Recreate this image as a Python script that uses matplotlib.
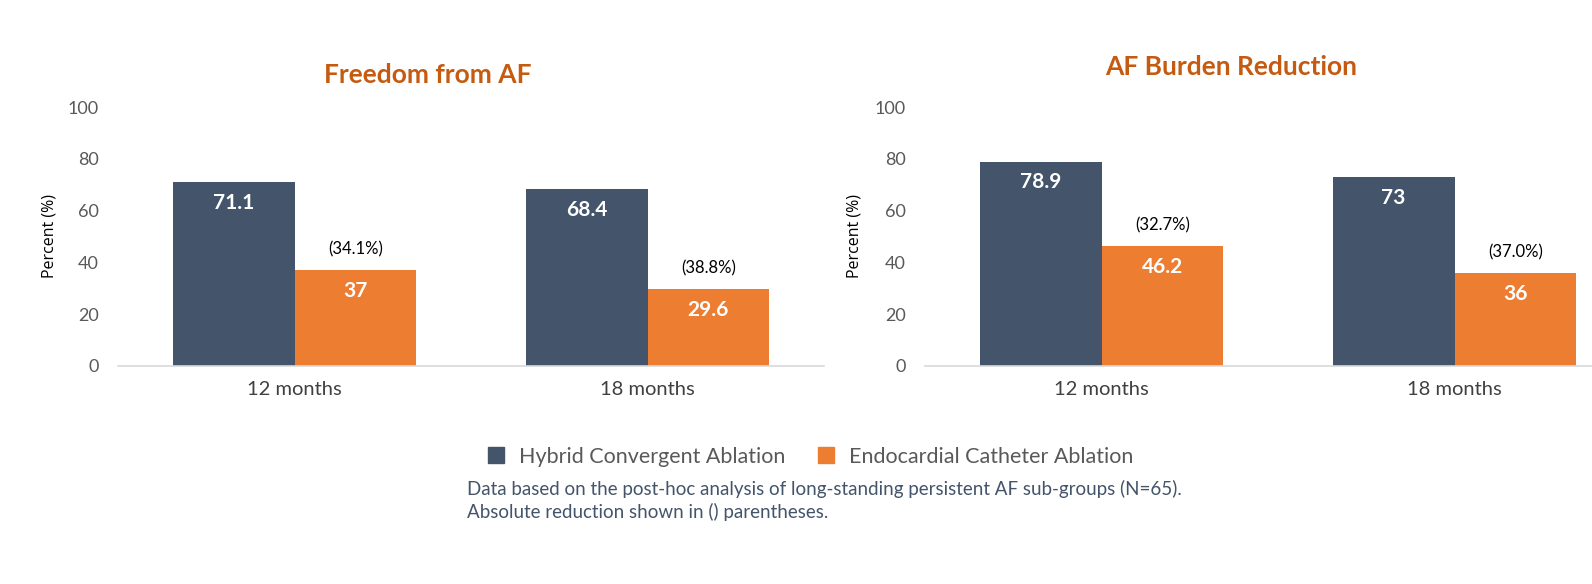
import matplotlib
matplotlib.use("Agg")
import matplotlib.pyplot as plt
from matplotlib.lines import Line2D
import numpy as np

plt.rcParams['font.family'] = ['Lato', 'DejaVu Sans']

# Daten
months = ["12 months", "18 months"]
series_names = ["Hybrid Convergent Ablation", "Endocardial Catheter Ablation"]
freedom_hybrid = [71.1, 68.4]
freedom_endo = [37, 29.6]
freedom_abs = ["(34.1%)", "(38.8%)"]
burden_hybrid = [78.9, 73]
burden_endo = [46.2, 36]
burden_abs = ["(32.7%)", "(37.0%)"]
yticks = [0, 20, 40, 60, 80, 100]

c_hybrid = "#44546A"
c_endo = "#ED7D31"
c_title = "#C55A11"

fig = plt.figure(figsize=(15.92, 5.84), dpi=100)
W, H = 1592, 584


def panel(left_px, hybrid, endo, absred, ylab_x):
    ax = fig.add_axes([left_px / W, 218 / H, 706 / W, 259 / H])
    x = np.arange(len(months))
    w = 0.345
    b1 = ax.bar(x - w / 2, hybrid, w, color=c_hybrid)
    b2 = ax.bar(x + w / 2, endo, w, color=c_endo)
    for bars in (b1, b2):
        for r in bars:
            ax.annotate(f"{r.get_height():g}", (r.get_x() + r.get_width() / 2, r.get_height()),
                        xytext=(0, -15), textcoords="offset points", ha="center", va="center",
                        color="white", fontsize=15, fontweight="bold")
    for r, t in zip(b2, absred):
        ax.annotate(t, (r.get_x() + r.get_width() / 2, r.get_height()),
                    xytext=(0, 15), textcoords="offset points", ha="center", va="center",
                    color="black", fontsize=12)
    ax.set_xlim(-0.5, 1.5)
    ax.set_ylim(0, 100)
    ax.set_yticks(yticks)
    ax.set_xticks(x)
    ax.set_xticklabels(months)
    ax.tick_params(axis="y", length=0, pad=14, labelsize=13, labelcolor="#595959")
    ax.tick_params(axis="x", length=0, pad=11, labelsize=14.5, labelcolor="#404040")
    for s in ["top", "right", "left"]:
        ax.spines[s].set_visible(False)
    ax.spines["bottom"].set_color("#D9D9D9")
    ax.spines["bottom"].set_linewidth(1.2)
    ax.set_ylabel("Percent (%)", fontsize=11.5, color="black", family=["Open Sans", "DejaVu Sans"])
    ax.yaxis.set_label_coords(ylab_x, 0.5)
    return ax


panel(118, freedom_hybrid, freedom_endo, freedom_abs, -0.085)
panel(925, burden_hybrid, burden_endo, burden_abs, -0.088)

# Titel
fig.text(428 / W, 1 - 75 / H, "Freedom from AF", ha="center", va="center",
         color=c_title, fontsize=19, fontweight="bold")
fig.text(1231 / W, 1 - 67 / H, "AF Burden Reduction", ha="center", va="center",
         color=c_title, fontsize=19, fontweight="bold")

# Legende
handles = [Line2D([], [], marker="s", linestyle="none", markersize=11, color=c)
           for c in (c_hybrid, c_endo)]
fig.legend(handles, series_names, loc="center", bbox_to_anchor=(804 / W, 1 - 457 / H),
           ncol=2, frameon=False, fontsize=15.5, labelcolor="#595959",
           handletextpad=0.05, columnspacing=0.9)

# Fussnote
fig.text(467 / W, 1 - 489 / H,
         "Data based on the post-hoc analysis of long-standing persistent AF sub-groups (N=65).",
         ha="left", va="center", color="#44546A", fontsize=13.5)
fig.text(467 / W, 1 - 512 / H, "Absolute reduction shown in () parentheses.",
         ha="left", va="center", color="#44546A", fontsize=13.5)

fig.savefig("out.png", dpi=100)
